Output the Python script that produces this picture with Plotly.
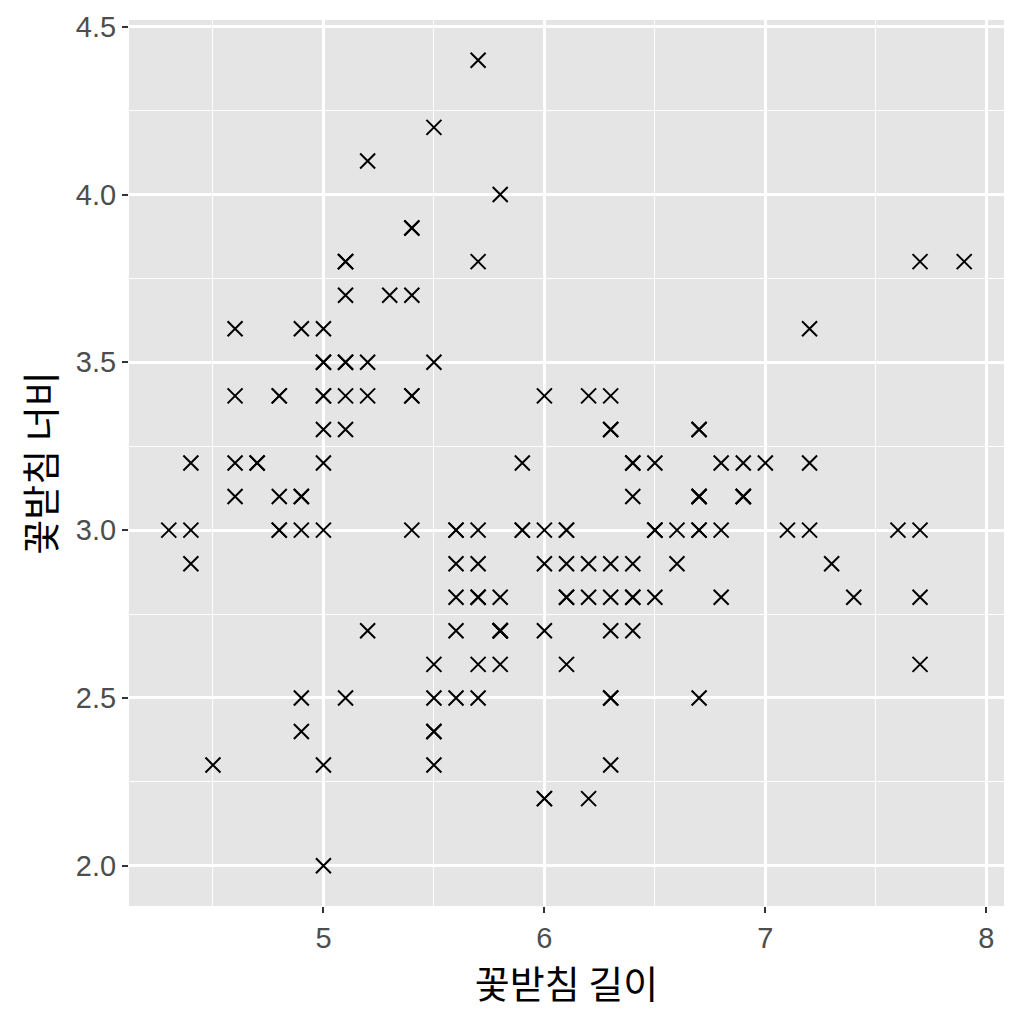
import plotly.graph_objs as go

# iris sepal measurements
sepal_length = [
    5.1, 4.9, 4.7, 4.6, 5.0, 5.4, 4.6, 5.0, 4.4, 4.9, 5.4, 4.8, 4.8, 4.3, 5.8, 5.7, 5.4, 5.1, 5.7, 5.1,
    5.4, 5.1, 4.6, 5.1, 4.8, 5.0, 5.0, 5.2, 5.2, 4.7, 4.8, 5.4, 5.2, 5.5, 4.9, 5.0, 5.5, 4.9, 4.4, 5.1,
    5.0, 4.5, 4.4, 5.0, 5.1, 4.8, 5.1, 4.6, 5.3, 5.0,
    7.0, 6.4, 6.9, 5.5, 6.5, 5.7, 6.3, 4.9, 6.6, 5.2, 5.0, 5.9, 6.0, 6.1, 5.6, 6.7, 5.6, 5.8, 6.2, 5.6,
    5.9, 6.1, 6.3, 6.1, 6.4, 6.6, 6.8, 6.7, 6.0, 5.7, 5.5, 5.5, 5.8, 6.0, 5.4, 6.0, 6.7, 6.3, 5.6, 5.5,
    5.5, 6.1, 5.8, 5.0, 5.6, 5.7, 5.7, 6.2, 5.1, 5.7,
    6.3, 5.8, 7.1, 6.3, 6.5, 7.6, 4.9, 7.3, 6.7, 7.2, 6.5, 6.4, 6.8, 5.7, 5.8, 6.4, 6.5, 7.7, 7.7, 6.0,
    6.9, 5.6, 7.7, 6.3, 6.7, 7.2, 6.2, 6.1, 6.4, 7.2, 7.4, 7.9, 6.4, 6.3, 6.1, 7.7, 6.3, 6.4, 6.0, 6.9,
    6.7, 6.9, 5.8, 6.8, 6.7, 6.7, 6.3, 6.5, 6.2, 5.9,
]
sepal_width = [
    3.5, 3.0, 3.2, 3.1, 3.6, 3.9, 3.4, 3.4, 2.9, 3.1, 3.7, 3.4, 3.0, 3.0, 4.0, 4.4, 3.9, 3.5, 3.8, 3.8,
    3.4, 3.7, 3.6, 3.3, 3.4, 3.0, 3.4, 3.5, 3.4, 3.2, 3.1, 3.4, 4.1, 4.2, 3.1, 3.2, 3.5, 3.6, 3.0, 3.4,
    3.5, 2.3, 3.2, 3.5, 3.8, 3.0, 3.8, 3.2, 3.7, 3.3,
    3.2, 3.2, 3.1, 2.3, 2.8, 2.8, 3.3, 2.4, 2.9, 2.7, 2.0, 3.0, 2.2, 2.9, 2.9, 3.1, 3.0, 2.7, 2.2, 2.5,
    3.2, 2.8, 2.5, 2.8, 2.9, 3.0, 2.8, 3.0, 2.9, 2.6, 2.4, 2.4, 2.7, 2.7, 3.0, 3.4, 3.1, 2.3, 3.0, 2.5,
    2.6, 3.0, 2.6, 2.3, 2.7, 3.0, 2.9, 2.9, 2.5, 2.8,
    3.3, 2.7, 3.0, 2.9, 3.0, 3.0, 2.5, 2.9, 2.5, 3.6, 3.2, 2.7, 3.0, 2.5, 2.8, 3.2, 3.0, 3.8, 2.6, 2.2,
    3.2, 2.8, 2.8, 2.7, 3.3, 3.2, 2.8, 3.0, 2.8, 3.0, 2.8, 3.8, 2.8, 2.8, 2.6, 3.0, 3.4, 3.1, 3.0, 3.1,
    3.1, 3.1, 2.7, 3.2, 3.3, 3.0, 2.5, 3.0, 3.4, 3.0,
]

x_ticks = [5, 6, 7, 8]
y_ticks = [2.0, 2.5, 3.0, 3.5, 4.0, 4.5]

font_family = 'Liberation Sans, Noto Sans CJK KR, sans-serif'

fig = go.Figure()

fig.add_trace(go.Scatter(
    x=sepal_length,
    y=sepal_width,
    mode='markers',
    marker=dict(symbol='x-thin-open', size=15, color='black',
                line=dict(color='black', width=2)),
    showlegend=False,
))

axis_common = dict(
    showgrid=True, gridcolor='white', gridwidth=2.5,
    zeroline=False, showline=False, automargin=False,
    ticks='outside', ticklen=6, tickwidth=2, tickcolor='#333333',
    tickfont=dict(size=29, color='#4D4D4D', family=font_family),
)

# the page body adds an 8px offset, margins account for it
fig.update_layout(
    width=1024, height=1024,
    margin=dict(l=121, r=28, t=12, b=126),
    paper_bgcolor='white',
    plot_bgcolor='#E5E5E5',
    font=dict(family=font_family),
    xaxis=dict(
        range=[4.12, 8.08], tickvals=x_ticks, ticktext=[str(v) for v in x_ticks],
        minor=dict(dtick=0.5, tick0=4.5, showgrid=True, gridcolor='white', gridwidth=1.2, ticks=''),
        title=dict(text='꽃받침 길이', font=dict(size=38, color='black', family='Noto Sans CJK KR'), standoff=8),
        **axis_common,
    ),
    yaxis=dict(
        range=[1.88, 4.52], tickvals=y_ticks, ticktext=[f'{v:.1f}' for v in y_ticks],
        minor=dict(dtick=0.25, tick0=2.25, showgrid=True, gridcolor='white', gridwidth=1.2, ticks=''),
        title=dict(text='꽃받침 너비', font=dict(size=38, color='black', family='Noto Sans CJK KR'), standoff=8),
        **axis_common,
    ),
)

fig.write_html("out.html")
